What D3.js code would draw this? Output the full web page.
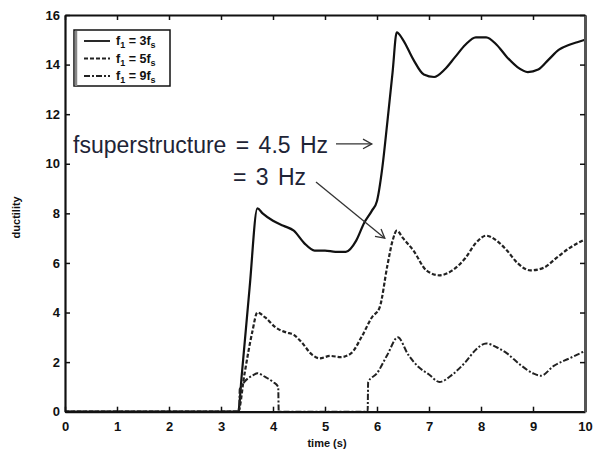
<!DOCTYPE html>
<html>
<head>
<meta charset="utf-8">
<script src="https://cdn.jsdelivr.net/npm/d3@7/dist/d3.min.js"></script>
<style>
  html, body { margin: 0; padding: 0; background: #fff; }
  svg { display: block; }
</style>
</head>
<body>
<svg id="chart" width="595" height="460"></svg>
<script>
// Ductility demand over time for three forcing frequencies
const timeA = [0, 3.33, 3.4, 3.55, 3.7, 3.8, 4.0, 4.2, 4.4, 4.6, 4.8, 5.0, 5.2, 5.4, 5.6, 5.75, 5.9, 6.0, 6.1, 6.2, 6.3, 6.38, 6.5, 6.7, 6.9, 7.1, 7.3, 7.5, 7.7, 7.9, 8.1, 8.3, 8.5, 8.7, 8.9, 9.1, 9.3, 9.5, 9.7, 9.85, 10];
const ductA = [0, 0, 1.5, 5.0, 8.2, 8.0, 7.7, 7.5, 7.3, 6.8, 6.5, 6.5, 6.45, 6.45, 6.9, 7.6, 8.1, 8.5, 9.8, 11.7, 13.7, 15.3, 15.0, 14.2, 13.6, 13.5, 13.8, 14.3, 14.8, 15.1, 15.1, 14.8, 14.3, 13.9, 13.7, 13.8, 14.2, 14.6, 14.8, 14.9, 15.0];

const timeB = [0, 3.33, 3.45, 3.6, 3.7, 3.85, 4.05, 4.25, 4.4, 4.55, 4.75, 4.9, 5.1, 5.3, 5.5, 5.7, 5.9, 6.05, 6.2, 6.3, 6.38, 6.5, 6.7, 6.95, 7.2, 7.45, 7.7, 7.9, 8.1, 8.3, 8.5, 8.7, 8.95, 9.2, 9.45, 9.7, 10];
const ductB = [0, 0, 1.5, 3.2, 4.0, 3.8, 3.4, 3.2, 3.1, 2.8, 2.3, 2.15, 2.25, 2.2, 2.35, 3.0, 3.8, 4.2, 5.9, 6.9, 7.3, 7.0, 6.5, 5.7, 5.5, 5.7, 6.2, 6.8, 7.1, 6.9, 6.5, 6.0, 5.7, 5.8, 6.2, 6.6, 6.95];

const timeC = [0, 3.35, 3.36, 3.45, 3.6, 3.7, 3.85, 4.0, 4.1, 4.11, 5.82, 5.83, 6.0, 6.2, 6.4, 6.6, 6.8, 7.0, 7.2, 7.45, 7.7, 7.9, 8.1, 8.3, 8.5, 8.75, 9.0, 9.15, 9.4, 9.7, 10];
const ductC = [0, 0, 0.9, 1.2, 1.45, 1.55, 1.4, 1.2, 1.0, 0, 0, 1.2, 1.55, 2.3, 3.0, 2.3, 1.8, 1.5, 1.2, 1.5, 2.0, 2.5, 2.75, 2.6, 2.35, 1.9, 1.55, 1.45, 1.85, 2.15, 2.45];

const seriesLabels = [["3", "s"], ["5", "s"], ["9", "s"]];
const xTicks = [0, 1, 2, 3, 4, 5, 6, 7, 8, 9, 10];
const yTicks = [0, 2, 4, 6, 8, 10, 12, 14, 16];

const svg = d3.select("#chart");
const plotL = 65, plotR = 585, plotT = 15, plotB = 411.7;

const x = d3.scaleLinear().domain([0, 10]).range([plotL, plotR]);
const y = d3.scaleLinear().domain([0, 16]).range([plotB, plotT]);

const series = [
  { t: timeA, v: ductA, dash: null, width: 2.2, color: "#111" },
  { t: timeB, v: ductB, dash: "4,2", width: 2.2, color: "#222" },
  { t: timeC, v: ductC, dash: "6,2,2,2", width: 2.0, color: "#222" }
];

const line = d3.line()
  .x(d => x(d[0]))
  .y(d => y(d[1]))
  .curve(d3.curveMonotoneX);

series.forEach(s => {
  svg.append("path")
    .datum(s.t.map((t, i) => [t, s.v[i]]))
    .attr("d", line)
    .attr("fill", "none")
    .attr("stroke", s.color)
    .attr("stroke-width", s.width)
    .attr("stroke-linejoin", "round")
    .attr("stroke-dasharray", s.dash);
});

// Axes with inward ticks on all four sides
const tickFont = "bold 13px 'Liberation Sans', Arial, sans-serif";

const xAxis = svg.append("g").attr("transform", `translate(0,${plotB})`)
  .call(d3.axisBottom(x).tickValues(xTicks).tickSizeInner(-5).tickSizeOuter(0).tickPadding(10).tickFormat(d3.format("d")));
const yAxis = svg.append("g").attr("transform", `translate(${plotL},0)`)
  .call(d3.axisLeft(y).tickValues(yTicks).tickSizeInner(-5).tickSizeOuter(0).tickPadding(5).tickFormat(d3.format("d")));
const xTop = svg.append("g").attr("transform", `translate(0,${plotT})`)
  .call(d3.axisTop(x).tickValues(xTicks).tickSizeInner(-5).tickSizeOuter(0).tickFormat(""));
const yRight = svg.append("g").attr("transform", `translate(${plotR},0)`)
  .call(d3.axisRight(y).tickValues(yTicks).tickSizeInner(-5).tickSizeOuter(0).tickFormat(""));

[xAxis, yAxis, xTop, yRight].forEach(g => {
  g.select(".domain").attr("stroke", "#111").attr("stroke-width", 2.2);
  g.selectAll(".tick line").attr("stroke", "#111").attr("stroke-width", 1.5);
  g.selectAll(".tick text").style("font", tickFont).attr("fill", "#111");
});
yRight.select(".domain").attr("stroke", "#555").attr("stroke-width", 3);

// Axis titles
svg.append("text")
  .attr("x", (plotL + plotR) / 2 + 2).attr("y", 447)
  .attr("text-anchor", "middle")
  .style("font", "bold 11px 'Liberation Sans', Arial, sans-serif")
  .attr("fill", "#111")
  .text("time (s)");

svg.append("text")
  .attr("transform", `translate(20,${(plotT + plotB) / 2 + 4}) rotate(-90)`)
  .attr("text-anchor", "middle")
  .style("font", "bold 11px 'Liberation Sans', Arial, sans-serif")
  .attr("fill", "#111")
  .text("ductility");

// Legend
const lg = svg.append("g");
lg.append("rect")
  .attr("x", 74).attr("y", 30).attr("width", 96).attr("height", 56)
  .attr("fill", "#fff").attr("stroke", "#111").attr("stroke-width", 1.5);
lg.append("line").attr("x1", 76).attr("x2", 76).attr("y1", 31).attr("y2", 86)
  .attr("stroke", "#888").attr("stroke-width", 2.5);
series.forEach((s, i) => {
  const ly = 41 + i * 17.5;
  lg.append("line")
    .attr("x1", 84).attr("x2", 110).attr("y1", ly).attr("y2", ly)
    .attr("stroke", s.color).attr("stroke-width", 1.8)
    .attr("stroke-dasharray", s.dash);
  const t = lg.append("text")
    .attr("x", 116).attr("y", ly + 4)
    .style("font", "bold 12.5px 'Liberation Sans', Arial, sans-serif")
    .attr("fill", "#111");
  t.append("tspan").text("f");
  t.append("tspan").attr("dy", 3).style("font-size", "9px").text("1");
  t.append("tspan").attr("dy", -3).text(" = " + seriesLabels[i][0] + "f");
  t.append("tspan").attr("dy", 3).style("font-size", "9px").text(seriesLabels[i][1]);
});

// Annotations with arrows
const noteFont = "23px 'Liberation Sans', Arial, sans-serif";
const noteColor = "#1e2436";
svg.append("text")
  .attr("x", 73).attr("y", 153)
  .style("font", noteFont).style("word-spacing", "3px").attr("fill", noteColor)
  .text("fsuperstructure = 4.5 Hz");
svg.append("text")
  .attr("x", 233).attr("y", 185)
  .style("font", noteFont).style("word-spacing", "3px").attr("fill", noteColor)
  .text("= 3 Hz");

function arrow(x1, y1, x2, y2) {
  const g = svg.append("g").attr("stroke", "#333").attr("stroke-width", 1.3).attr("fill", "none");
  g.append("line").attr("x1", x1).attr("y1", y1).attr("x2", x2).attr("y2", y2);
  const a = Math.atan2(y2 - y1, x2 - x1), L = 10, w = 0.5;
  g.append("path").attr("d",
    `M${x2 - L * Math.cos(a - w)},${y2 - L * Math.sin(a - w)} L${x2},${y2} L${x2 - L * Math.cos(a + w)},${y2 - L * Math.sin(a + w)}`);
}
// 4.5 Hz case points toward the rising solid curve, 3 Hz case toward the dashed peak
arrow(336, y(10.8), x(5.9), y(10.8));
arrow(316, 182, x(6.15), y(7.0));
</script>
</body>
</html>
